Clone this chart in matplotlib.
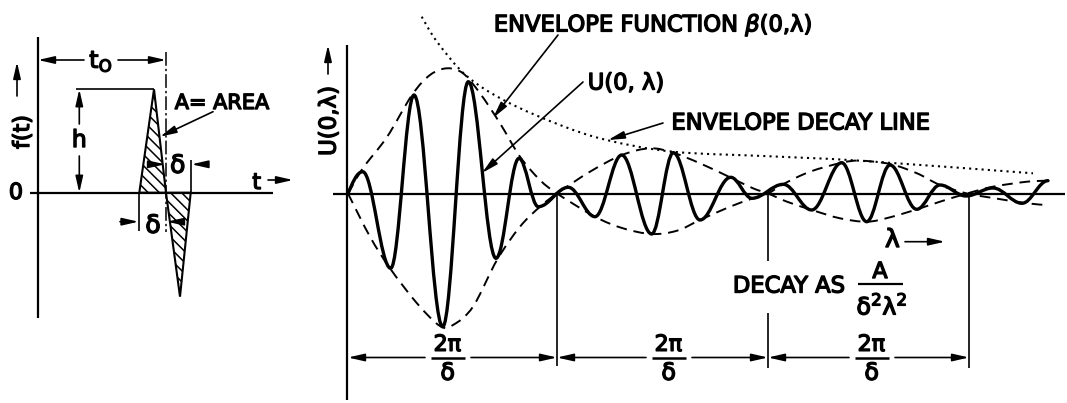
import matplotlib
matplotlib.use("Agg")
import matplotlib.pyplot as plt
import matplotlib.patheffects as pe
from matplotlib.path import Path
from matplotlib.patches import PathPatch, Polygon

# ---- values (pixel space, y down) ----
base_y = 193.5
node_x = [348, 557, 768, 969]

# extrema of U(0, lambda), starting at the origin
wave_x = [348, 362.7, 390.7, 414, 442.7, 468.3, 496, 519, 538.3, 568.3, 595, 621.7,
          651.7, 673.3, 700, 730.7, 752, 783.3, 811.7, 841.7, 866.7, 890, 916.7,
          940, 966, 993, 1022, 1048]
wave_y = [193.5, 171.7, 268.3, 95, 326.7, 81.7, 258.3, 158.3, 206.7, 187.3, 216.7, 155,
          234, 152.7, 220, 177.3, 198.3, 184.3, 210, 162.7, 221.7, 165, 209.3,
          185, 196, 188, 203.3, 180.7]

# the two dashed envelope branches (they cross at each node)
env_a_x = [348, 363, 387, 412, 430, 447, 463, 480, 500, 520, 540, 557,
           595, 623, 652, 677, 700, 730, 753, 768,
           783, 810, 842, 860, 890, 917, 940, 967, 993, 1027, 1047]
env_a_y = [193.5, 168, 137, 95, 75, 68.3, 73.3, 93.3, 123.3, 156.7, 180, 193.5,
           216.7, 228.3, 234, 230.7, 220, 206.7, 198.3, 193.5,
           184.3, 171.7, 162.7, 160.7, 164, 173.3, 185, 193.5, 198, 203.3, 205]
env_b_x = [348, 370, 390, 417, 440, 453, 473, 497, 520, 540, 557,
           590, 622, 650, 673, 700, 730, 753, 768,
           787, 812, 840, 867, 890, 917, 940, 967, 993, 1027, 1047]
env_b_y = [193.5, 236.7, 268.3, 303.3, 326, 325, 306.7, 260, 226.7, 206.7, 193.5,
           171.7, 155, 148.3, 152.7, 163.3, 177.3, 188.3, 193.5,
           201.7, 210, 218.3, 221.7, 217.3, 209.3, 201.7, 193.5, 186.7, 181.7, 180.7]

# dotted envelope decay line
decay_x = [421.7, 437, 466.7, 506.7, 560, 606.7, 673, 770, 860, 1033]
decay_y = [16.7, 41.7, 76, 101.7, 125, 140, 151.7, 156.3, 160.7, 173.3]

# pulse f(t): positive and negative triangles
pos_tri_x = [139.3, 154, 166]
pos_tri_y = [192.7, 89.3, 192.7]
neg_tri_x = [166, 180, 190.7]
neg_tri_y = [192.7, 296.7, 192.7]

span_label_x = [448, 669, 872]
span_label = r"$2\pi$"

plt.rcParams["font.family"] = ["DejaVu Sans"]
plt.rcParams["mathtext.default"] = "regular"
plt.rcParams["hatch.linewidth"] = 1.1

fig = plt.figure(figsize=(10.67, 4.03), dpi=100)
ax = fig.add_axes([0, 0, 1, 1])
ax.set_xlim(0, 1067)
ax.set_ylim(403, 0)
ax.axis("off")

thick = [pe.withStroke(linewidth=1.0, foreground="k")]


def txt(x, y, s, size=15, **kw):
    ax.text(x, y, s, fontsize=size, ha=kw.pop("ha", "center"), va=kw.pop("va", "center"),
            path_effects=thick, **kw)


def line(xs, ys, lw=1.5, **kw):
    ax.plot(xs, ys, color="k", lw=lw, solid_capstyle="butt", **kw)


def arrow(x0, y0, x1, y1, lw=1.2):
    ax.annotate("", xy=(x1, y1), xytext=(x0, y0),
                arrowprops=dict(arrowstyle="-|>,head_length=0.7,head_width=0.16",
                                lw=lw, color="k", shrinkA=0, shrinkB=0,
                                mutation_scale=14))


def wave_path(xs, ys, k=0.364):
    verts = [(xs[0], ys[0])]
    codes = [Path.MOVETO]
    for i in range(len(xs) - 1):
        dx = xs[i + 1] - xs[i]
        if i == 0:
            c1 = (xs[0] + 0.3 * dx, ys[0] + 0.47 * (ys[1] - ys[0]))
            c2 = (xs[1] - 0.4 * dx, ys[1])
        else:
            c1 = (xs[i] + k * dx, ys[i])
            c2 = (xs[i + 1] - k * dx, ys[i + 1])
        verts += [c1, c2, (xs[i + 1], ys[i + 1])]
        codes += [Path.CURVE4] * 3
    return Path(verts, codes)


def smooth_path(xs, ys):
    pts = list(zip(xs, ys))
    n = len(pts)
    verts = [pts[0]]
    codes = [Path.MOVETO]
    for i in range(n - 1):
        p0 = pts[max(i - 1, 0)]
        p1 = pts[i]
        p2 = pts[i + 1]
        p3 = pts[min(i + 2, n - 1)]
        c1 = (p1[0] + (p2[0] - p0[0]) / 6, p1[1] + (p2[1] - p0[1]) / 6)
        c2 = (p2[0] - (p3[0] - p1[0]) / 6, p2[1] - (p3[1] - p1[1]) / 6)
        verts += [c1, c2, p2]
        codes += [Path.CURVE4] * 3
    return Path(verts, codes)


# ================= left panel: the pulse =================
line([38, 38], [37, 318], lw=1.6)
line([30, 273], [192.7, 192.7], lw=1.6)
txt(16, 193, "0", size=16)

# f(t) label with arrow
txt(23, 132, "f(t)", size=16, rotation=90)
arrow(17, 96, 17, 62)

# hatched triangles
ax.add_patch(Polygon(list(zip(pos_tri_x, pos_tri_y)), closed=True, fill=False,
                     hatch="\\\\\\", ec="k", lw=1.5))
ax.add_patch(Polygon(list(zip(neg_tri_x, neg_tri_y)), closed=True, fill=False,
                     hatch="\\\\\\", ec="k", lw=1.5))

# centre line of the doublet
ax.plot([166, 166], [52, 232], color="k", lw=1.1, ls=(0, (9, 2, 1.5, 2)))

# t0 dimension
arrow(84, 60, 38, 60)
arrow(118, 60, 166, 60)
txt(101, 61, r"$t_O$", size=17)

# h dimension
line([75.7, 154], [89.3, 89.3], lw=1.2)
arrow(79.3, 124, 79.3, 89.3)
arrow(79.3, 156, 79.3, 192.7)
txt(79.3, 140, "h", size=17)

# area label
txt(222, 103, "A= AREA", size=15)
arrow(213, 111.7, 160, 136.7)

# delta widths
line([190.7, 190.7], [160, 193], lw=1.2)
arrow(150, 164.3, 165, 164.3)
arrow(208, 164.3, 191.5, 164.3)
txt(178, 166, r"$\delta$", size=18)
line([139.3, 139.3], [193, 231], lw=1.2)
arrow(120, 221.7, 138.5, 221.7)
arrow(181, 221.7, 167, 221.7)
txt(153.3, 226, r"$\delta$", size=18)

# t arrow
txt(256.7, 183, "t", size=16)
arrow(268, 180, 293, 180)

# ================= right panel: spectrum =================
line([347, 347], [45, 400], lw=1.6)
line([333, 1065], [base_y, base_y], lw=1.6)
txt(328, 121, r"U(0,$\lambda$)", size=16.5, rotation=90)
arrow(328, 74, 328, 45)

# envelope (dashed), decay line (dotted), spectrum (solid)
for ex, ey in [(env_a_x, env_a_y), (env_b_x, env_b_y)]:
    ax.add_patch(PathPatch(smooth_path(ex, ey), fill=False, ec="k", lw=1.4,
                           ls=(0, (5.5, 3.5))))
ax.add_patch(PathPatch(smooth_path(decay_x, decay_y), fill=False, ec="k", lw=1.5,
                       ls=(0, (1, 2))))
ax.add_patch(PathPatch(wave_path(wave_x, wave_y), fill=False, ec="k", lw=2.4,
                       capstyle="round", joinstyle="round"))

# annotations
txt(653, 25, r"ENVELOPE FUNCTION $\mathit{\beta}$(0,$\lambda$)", size=16.3)
arrow(558, 35, 493, 118)
txt(626, 82, r"U(0, $\lambda$)", size=16.3)
arrow(583, 82, 482, 173)
txt(801, 123, "ENVELOPE DECAY LINE", size=16.3)
arrow(663, 123, 608, 140)

txt(893, 240, r"$\lambda$", size=18)
arrow(905, 241.7, 945, 241.7)

txt(789, 286, "DECAY AS", size=16.3)
txt(880, 272, "A", size=16)
line([858, 903], [283.5, 283.5], lw=1.6)
txt(882, 306, r"$\delta^2\lambda^2$", size=17)

# node extension lines
line([557, 557], [193, 366], lw=1.2)
line([768, 768], [193, 261], lw=1.2)
line([768, 768], [313, 368], lw=1.2)
line([969, 969], [193, 368], lw=1.2)

# 2pi/delta spans
dim_y = 357.5
for (xa, xb), cx in zip(zip(node_x[:-1], node_x[1:]), span_label_x):
    arrow(cx - 23, dim_y, xa, dim_y)
    arrow(cx + 23, dim_y, xb, dim_y)
    line([cx - 17, cx + 17], [dim_y, dim_y], lw=1.8)
    txt(cx, 345, span_label, size=16)
    txt(cx, 373, r"$\delta$", size=17)

fig.savefig("out.png", dpi=100)
